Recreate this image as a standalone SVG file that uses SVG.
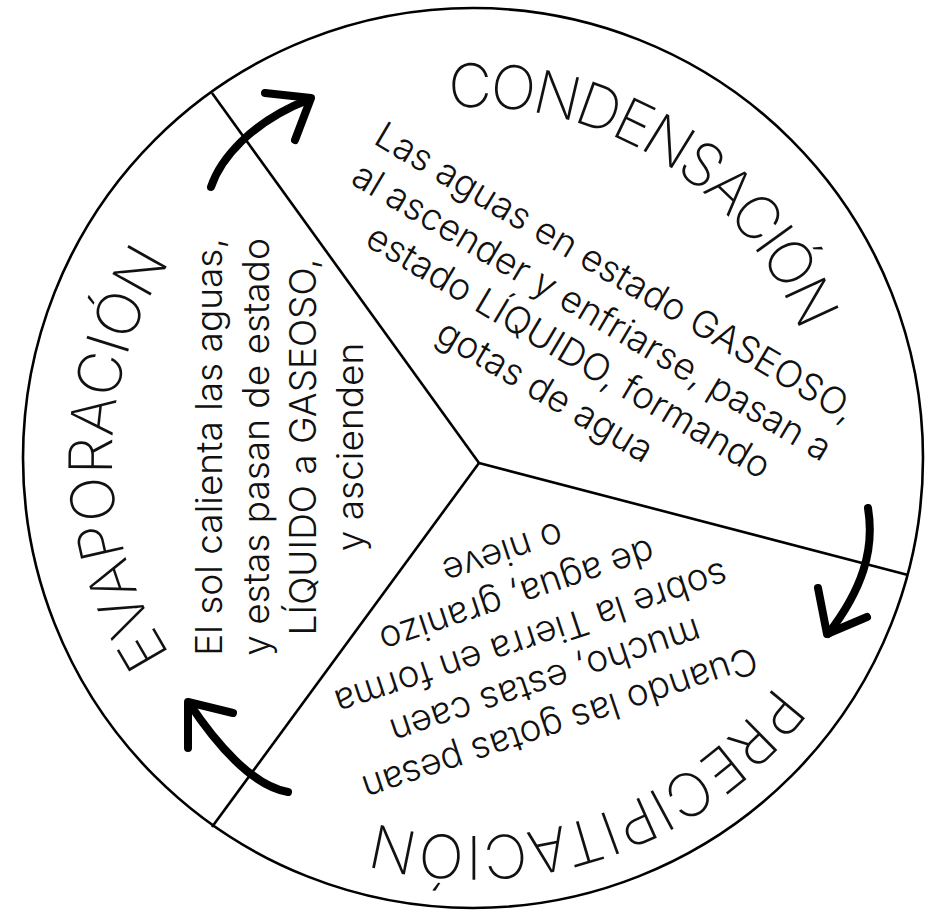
<svg xmlns="http://www.w3.org/2000/svg" width="929" height="914" viewBox="0 0 929 914">
<style>
.edge{fill:none;stroke:#000;stroke-width:2.6}
.arrow{fill:none;stroke:#000;stroke-width:8;stroke-linecap:round;stroke-linejoin:round}
.title{font-family:"Inter","Roboto","Liberation Sans",sans-serif;font-weight:250;font-size:60px;fill:#111}
.body{font-family:"Inter","Roboto","Liberation Sans",sans-serif;font-weight:270;font-size:37px;fill:#111;text-anchor:middle}
</style>
<defs>
<path id="arcC" d="M 310.9 146.7 A 351 351 0 0 1 823.7 473.3"/>
<path id="arcE" d="M 292.5 770.6 A 361 361 0 0 1 292.5 145.4"/>
<path id="arcP" d="M 844.0 530.1 A 378 378 0 0 1 225.0 743.3"/>
</defs>
<rect width="929" height="914" fill="#fff"/>
<circle cx="473" cy="458" r="450" class="edge" stroke-width="3"/>
<g id="connectors">
<line class="edge" x1="479" y1="463" x2="212" y2="93"/>
<line class="edge" x1="479" y1="463" x2="908" y2="575"/>
<line class="edge" x1="479" y1="463" x2="212" y2="827"/>
<path class="arrow" d="M 211 187 C 220 160, 250 122, 310 99"/>
<path class="arrow" d="M 265 93 L 311 98 L 295 140"/>
<path class="arrow" d="M 868 508 C 875 550, 862 590, 828 634"/>
<path class="arrow" d="M 818 588 L 827 634 L 867 617"/>
<path class="arrow" d="M 288 792 C 252 786, 215 742, 189 703"/>
<path class="arrow" d="M 188 748 L 188 702 L 233 713"/>
</g>
<g id="condensacion">
<text class="title"><textPath href="#arcC" startOffset="50%" text-anchor="middle" textLength="447" lengthAdjust="spacing">CONDENSACIÓN</textPath></text>
<g transform="translate(609,283) rotate(30.6)">
<text class="body" x="0" y="0">Las aguas en estado GASEOSO,</text>
<text class="body" x="0" y="46">al ascender y enfriarse, pasan a</text>
<text class="body" x="0" y="92">estado LÍQUIDO, formando</text>
<text class="body" x="0" y="138">gotas de agua</text>
</g>
</g>
<g id="evaporacion">
<text class="title"><textPath href="#arcE" startOffset="50%" text-anchor="middle" textLength="416" lengthAdjust="spacing">EVAPORACIÓN</textPath></text>
<g transform="translate(222,447) rotate(-90)">
<text class="body" x="0" y="0">El sol calienta las aguas,</text>
<text class="body" x="0" y="47">y estas pasan de estado</text>
<text class="body" x="0" y="94">LÍQUIDO a GASEOSO,</text>
<text class="body" x="0" y="141">y ascienden</text>
</g>
</g>
<g id="precipitacion">
<text class="title"><textPath href="#arcP" startOffset="50%" text-anchor="middle" textLength="449" lengthAdjust="spacing">PRECIPITACIÓN</textPath></text>
<g transform="translate(556,712) rotate(161.5)">
<text class="body" x="0" y="0">Cuando las gotas pesan</text>
<text class="body" x="0" y="45">mucho, estas caen</text>
<text class="body" x="0" y="90">sobre la Tierra en forma</text>
<text class="body" x="0" y="135">de agua, granizo</text>
<text class="body" x="0" y="180">o nieve</text>
</g>
</g>
</svg>
